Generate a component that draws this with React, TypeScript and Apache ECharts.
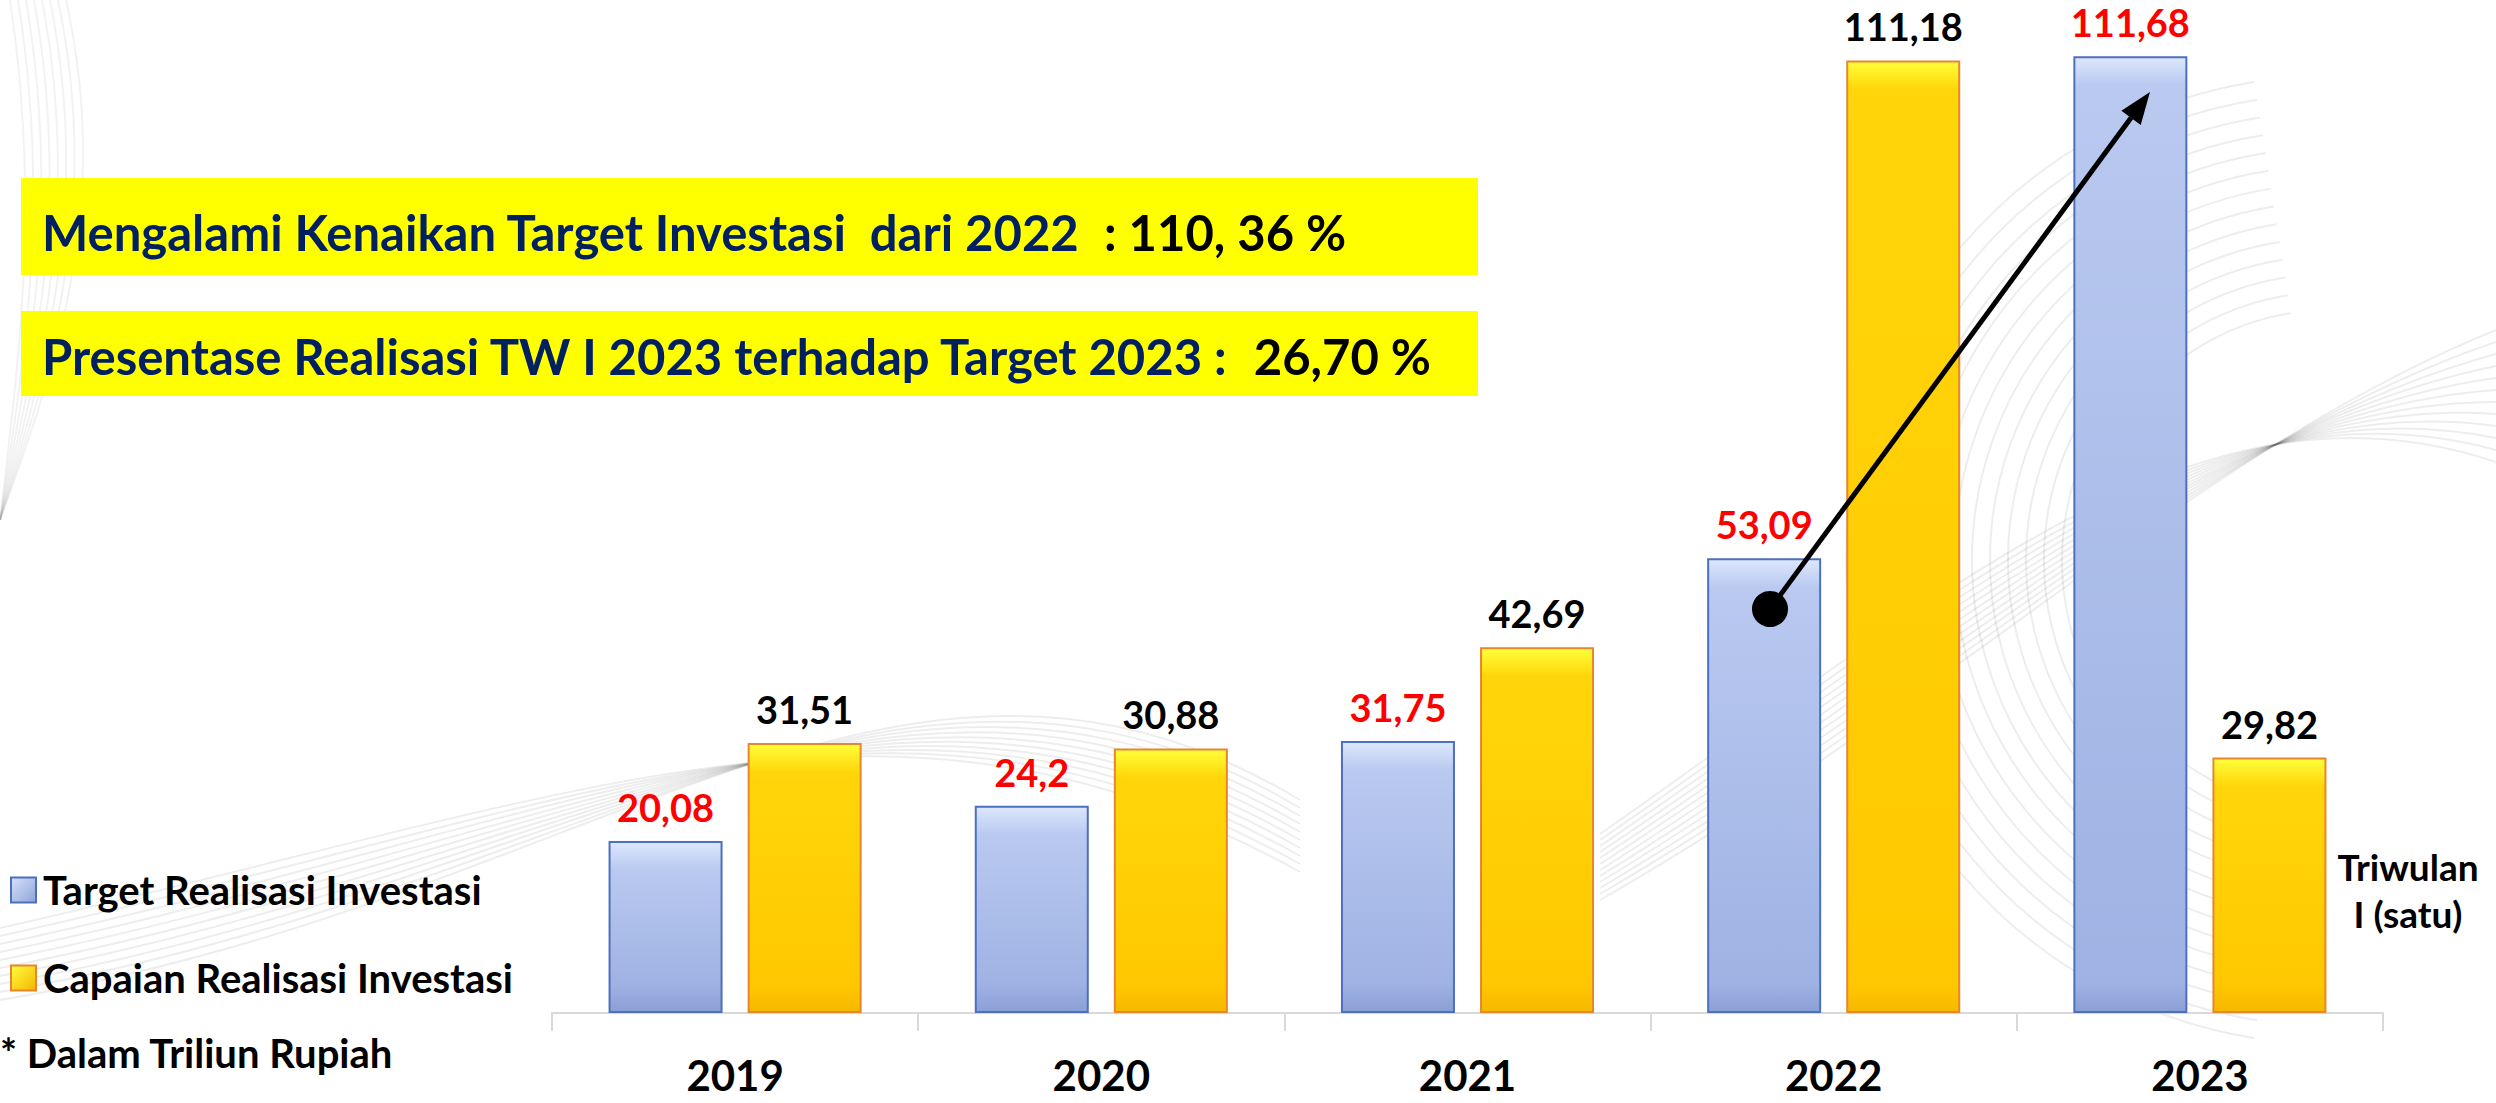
import React, { useEffect, useRef } from "react";
import * as echarts from "echarts";

const categories = ["2019", "2020", "2021", "2022", "2023"];
const targetValues = [20.08, 24.2, 31.75, 53.09, 111.68];
const capaianValues = [31.51, 30.88, 42.69, 111.18, 29.82];
const seriesNames = ["Target Realisasi Investasi", "Capaian Realisasi Investasi"];

const FONT = "Lato";
const Y_MAX = 118;
const PX_PER_UNIT = 1011 / Y_MAX;

const fmt = (v: number) => String(v).replace(".", ",");

function blueGrad(v: number) {
  const h = v * PX_PER_UNIT;
  const f = Math.min(0.3, 28 / h);
  return new echarts.graphic.LinearGradient(0, 0, 0, 1, [
    { offset: 0, color: "#dde8fd" },
    { offset: f, color: "#b9c9f0" },
    { offset: 1 - f, color: "#9fb2e3" },
    { offset: 1, color: "#8a9fd6" },
  ]);
}
function yellowGrad(v: number) {
  const h = v * PX_PER_UNIT;
  const f = Math.min(0.3, 28 / h);
  return new echarts.graphic.LinearGradient(0, 0, 0, 1, [
    { offset: 0, color: "#ffff3a" },
    { offset: f, color: "#ffd60a" },
    { offset: 1 - f, color: "#ffc800" },
    { offset: 1, color: "#f7b800" },
  ]);
}

function backgroundDecor() {
  const items: any[] = [];
  const stroke = "rgba(0,0,0,0.07)";
  // concentric arcs on the right
  for (let i = 0; i < 14; i++) {
    items.push({
      type: "arc",
      z: 0,
      silent: true,
      shape: { cx: 2330, cy: 560, r: 250 + i * 18, startAngle: Math.PI * 0.55, endAngle: Math.PI * 1.45 },
      style: { stroke, lineWidth: 2, fill: "none" },
    });
  }
  // sweeping band on right
  for (let i = 0; i < 12; i++) {
    items.push({
      type: "bezierCurve",
      z: 0,
      silent: true,
      shape: { x1: 1600, y1: 900 - i * 6, cpx1: 1950, cpy1: 700 - i * 10, cpx2: 2200, cpy2: 450 - i * 8, x2: 2496, y2: 330 + i * 12 },
      style: { stroke, lineWidth: 2, fill: "none" },
    });
  }
  // swirl at bottom center
  for (let i = 0; i < 10; i++) {
    items.push({
      type: "bezierCurve",
      z: 0,
      silent: true,
      shape: { x1: 0, y1: 1000 - i * 8, cpx1: 600, cpy1: 900 - i * 12, cpx2: 900, cpy2: 560 + i * 10, x2: 1300, y2: 800 + i * 8 },
      style: { stroke, lineWidth: 2, fill: "none" },
    });
  }
  // left edge vertical strokes
  for (let i = 0; i < 8; i++) {
    items.push({
      type: "bezierCurve",
      z: 0,
      silent: true,
      shape: { x1: 10 + i * 8, y1: 0, cpx1: 40 + i * 10, cpy1: 200, cpx2: 20 + i * 6, cpy2: 350, x2: 0, y2: 520 },
      style: { stroke: "rgba(0,0,0,0.05)", lineWidth: 2, fill: "none" },
    });
  }
  return items;
}

export default function App() {
  const ref = useRef<HTMLDivElement>(null);
  useEffect(() => {
    if (!ref.current) return;
    const chart = echarts.init(ref.current, null, { renderer: "svg" });

    const tip = [2150, 92];
    const start = [1770, 609];
    const dx = tip[0] - start[0];
    const dy = tip[1] - start[1];
    const len = Math.sqrt(dx * dx + dy * dy);
    const ux = dx / len;
    const uy = dy / len;
    const headLen = 32;
    const headHalf = 12;
    const bx = tip[0] - ux * headLen;
    const by = tip[1] - uy * headLen;
    const px = -uy;
    const py = ux;

    const titleRich = {
      a: { fontFamily: FONT, fontWeight: "bold", fontSize: 49, fill: "#002060" },
      b: { fontFamily: FONT, fontWeight: "bold", fontSize: 49, fill: "#000000" },
    };

    chart.setOption({
      animation: false,
      backgroundColor: "#ffffff",
      textStyle: { fontFamily: FONT },
      grid: { left: 552, right: 113, top: 2, bottom: 90 },
      legend: {
        orient: "vertical",
        left: 5,
        top: 865,
        itemWidth: 25,
        itemHeight: 25,
        itemGap: 48,
        icon: "rect",
        data: seriesNames,
        textStyle: { fontFamily: FONT, fontWeight: "bold", fontSize: 40, color: "#000", padding: [0, 0, 0, 2] },
      },
      xAxis: {
        type: "category",
        data: categories,
        axisLine: { lineStyle: { color: "#d9d9d9", width: 2 } },
        axisTick: { show: true, length: 18, lineStyle: { color: "#d9d9d9", width: 2 } },
        axisLabel: { fontFamily: FONT, fontWeight: "bold", fontSize: 42, color: "#000", margin: 41 },
      },
      yAxis: { type: "value", min: 0, max: Y_MAX, show: false, splitLine: { show: false } },
      series: [
        {
          name: seriesNames[0],
          type: "bar",
          barWidth: 114,
          barGap: "22%",
          z: 3,
          itemStyle: {
            color: new echarts.graphic.LinearGradient(0, 0, 1, 1, [
              { offset: 0, color: "#d6e2fb" },
              { offset: 1, color: "#8ea3d8" },
            ]),
            borderColor: "#4d6fbf",
            borderWidth: 2,
          },
          label: {
            show: true,
            position: "top",
            distance: 15,
            formatter: (p: any) => fmt(p.value),
            color: "#ff0000",
            fontFamily: FONT,
            fontWeight: "bold",
            fontSize: 38,
          },
          data: targetValues.map((v) => ({ value: v, itemStyle: { color: blueGrad(v) } })),
        },
        {
          name: seriesNames[1],
          type: "bar",
          barWidth: 114,
          barGap: "22%",
          z: 3,
          itemStyle: {
            color: new echarts.graphic.LinearGradient(0, 0, 1, 1, [
              { offset: 0, color: "#ffff40" },
              { offset: 1, color: "#f5b400" },
            ]),
            borderColor: "#e8862e",
            borderWidth: 2,
          },
          label: {
            show: true,
            position: "top",
            distance: 15,
            formatter: (p: any) => fmt(p.value),
            color: "#000000",
            fontFamily: FONT,
            fontWeight: "bold",
            fontSize: 38,
          },
          data: capaianValues.map((v) => ({ value: v, itemStyle: { color: yellowGrad(v) } })),
        },
      ],
      graphic: [
        ...backgroundDecor(),
        { type: "rect", shape: { x: 21, y: 178, width: 1457, height: 97 }, style: { fill: "#ffff00" }, z: 1 },
        { type: "rect", shape: { x: 21, y: 311, width: 1457, height: 85 }, style: { fill: "#ffff00" }, z: 1 },
        {
          type: "text",
          x: 42,
          y: 232,
          z: 2,
          style: {
            text: "{a|Mengalami Kenaikan Target Investasi  dari 2022  }{b|: 110, 36 %}",
            verticalAlign: "middle",
            rich: titleRich,
          },
        },
        {
          type: "text",
          x: 42,
          y: 356,
          z: 2,
          style: {
            text: "{a|Presentase Realisasi TW I 2023 terhadap Target 2023 :  }{b|26,70 %}",
            verticalAlign: "middle",
            rich: titleRich,
          },
        },
        {
          type: "text",
          x: 2408,
          y: 866,
          z: 5,
          style: { text: "Triwulan", align: "center", verticalAlign: "middle", fontFamily: FONT, fontWeight: "bold", fontSize: 37, fill: "#000" },
        },
        {
          type: "text",
          x: 2408,
          y: 913,
          z: 5,
          style: { text: "I (satu)", align: "center", verticalAlign: "middle", fontFamily: FONT, fontWeight: "bold", fontSize: 37, fill: "#000" },
        },
        {
          type: "text",
          x: 0,
          y: 1053,
          z: 5,
          style: { text: "* Dalam Triliun Rupiah", verticalAlign: "middle", fontFamily: FONT, fontWeight: "bold", fontSize: 40, fill: "#000" },
        },
        {
          type: "line",
          z: 10,
          shape: { x1: start[0], y1: start[1], x2: bx, y2: by },
          style: { stroke: "#000", lineWidth: 5 },
        },
        {
          type: "polygon",
          z: 10,
          shape: {
            points: [
              [tip[0], tip[1]],
              [bx + px * headHalf, by + py * headHalf],
              [bx - px * headHalf, by - py * headHalf],
            ],
          },
          style: { fill: "#000" },
        },
        { type: "circle", z: 10, shape: { cx: start[0], cy: start[1], r: 18 }, style: { fill: "#000" } },
      ],
    });
    return () => chart.dispose();
  }, []);
  return <div ref={ref} style={{ position: "fixed", left: 0, top: 0, width: 2496, height: 1103 }} />;
}
